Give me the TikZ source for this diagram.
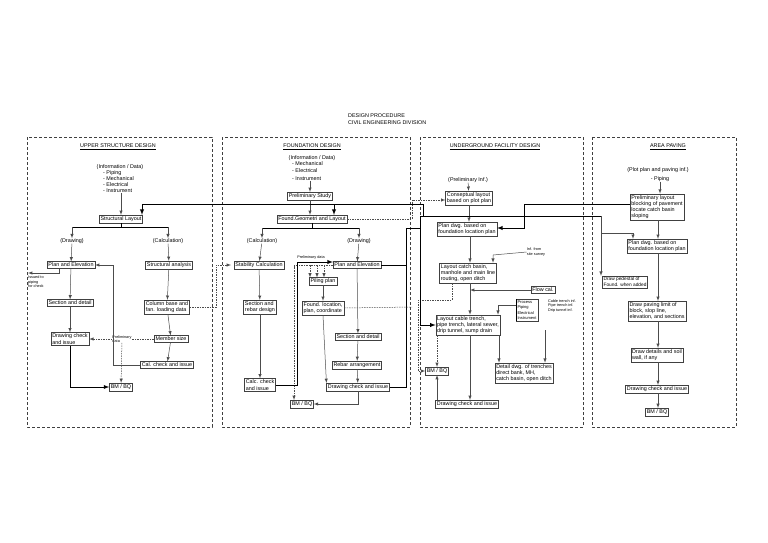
\documentclass[tikz,border=0pt]{standalone}
\usepackage{fontspec}
\setmainfont{Liberation Sans}
\begin{document}
\begin{tikzpicture}[x=1pt,y=-1pt,>=latex,
	box/.style={draw=black!75,line width=.5pt,fill=white,inner sep=1.3pt,align=left,font=\fontsize{5.4}{6.2}\selectfont},
	txt/.style={inner sep=0pt,align=left,font=\fontsize{5.4}{6.2}\selectfont},
	small/.style={inner sep=0pt,align=left,font=\fontsize{3.8}{4.4}\selectfont},
	head/.style={inner sep=0pt,font=\fontsize{5.4}{6.2}\selectfont},
	panel/.style={draw=black!75,line width=.7pt,dash pattern=on 3pt off 2pt},
	ln/.style={draw=black!70,line width=.5pt},
	thk/.style={draw=black,line width=.9pt},
	dsh/.style={draw=black!70,line width=.5pt,dash pattern=on 1.5pt off 1pt}]
	\useasboundingbox (0,0) rectangle (768,543);

	\node[txt,anchor=north west] (title) at (348,114) {DESIGN PROCEDURE\\CIVIL ENGINEERING DIVISION};

	\draw[panel] (27,137) rectangle (212,427);
	\draw[panel] (222,137) rectangle (410,427);
	\draw[panel] (420,137) rectangle (583,427);
	\draw[panel] (592,137) rectangle (736,427);

%	upper structure
	\node[head] (h1) at (118,147) {\underline{UPPER STRUCTURE DESIGN}};
	\node[txt] (i1) at (120,167) {(Information / Data)};
	\node[txt,anchor=north west] (i1b) at (103,170) {- Piping\\- Mechanical\\- Electrical\\- Instrument};
	\node[box] (sl) at (121,219) {Structural Layout};
	\node[txt] (dr1) at (72,241) {(Drawing)};
	\node[txt] (ca1) at (168,241) {(Calculation)};
	\node[box] (pe1) at (71,265) {Plan and Elevation};
	\node[box] (sa1) at (169,265) {Structural analysis};
	\node[small,anchor=north west] (iss) at (28,276) {Issued to\\piping\\for check};
	\node[box] (sd1) at (70,303) {Section and detail};
	\node[box] (cb1) at (167,307) {Column base and\\fan. loading data};
	\node[box] (dc1) at (70,339) {Drawing check\\and issue};
	\node[box] (ms1) at (171,339) {Member size};
	\node[small] (pd1) at (122,339) {Preliminary\\data};
	\node[box] (cc1) at (167,365) {Cal. check and issue};
	\node[box] (bm1) at (121,387) {BM / BQ};

	\draw[ln,->] (i1b.south west -| sl) -- (sl);
	\draw[thk] (sl) -- (121,227);
	\draw[thk] (72,227) -- (169,227);
	\draw[ln,->] (72,227) -- (dr1);
	\draw[ln,->] (168,227) -- (ca1);
	\draw[ln,->] (dr1) -- (pe1);
	\draw[ln,->] (ca1) -- (sa1);
	\draw[ln,->] (pe1.south -| 59,0) -- (59,273) -- (28,273);
	\draw[ln,->] (pe1) -- (sd1);
	\draw[ln,->] (sd1) -- (dc1);
	\draw[ln,->] (sa1) -- (cb1);
	\draw[ln,->] (cb1) -- (ms1);
	\draw[ln,->] (ms1) -- (cc1);
	\draw[dsh,->] (ms1) -- (pd1) -- (dc1);
	\draw[dsh,->] (pd1) -- (bm1);
	\draw[ln,->] (cc1.west) -- (113,365) -- (113,265) -- (pe1.east);
	\draw[thk,->] (dc1.south) -- (70,387) -- (bm1.west);
	\draw[dsh,->] (cb1.east) -- (216,307) -- (216,265) -- (231,265);

%	foundation
	\node[head] (h2) at (312,147) {\underline{FOUNDATION DESIGN}};
	\node[txt] (i2) at (312,158) {(Information / Data)};
	\node[txt,anchor=north west] (i2b) at (292,161) {- Mechanical\\[1.5pt]- Electrical\\[1.5pt]- Instrument};
	\node[box] (ps2) at (310,196) {Preliminary Study};
	\node[box] (fg2) at (312,219) {Found.Geometri and Layout};
	\node[txt] (ca2) at (262,241) {(Calculation)};
	\node[txt] (dr2) at (359,241) {(Drawing)};
	\node[box] (st2) at (259,265) {Stability Calculation};
	\node[box] (pe2) at (357,265) {Plan and Elevation};
	\node[small] (pd2) at (311,258) {Preliminary data};
	\node[box] (pp2) at (323,281) {Piling plan};
	\node[box] (fl2) at (323,308) {Found. location,\\plan, coordinate};
	\node[box] (sr2) at (260,307) {Section and\\rebar design};
	\node[box] (sd2) at (358,337) {Section and detail};
	\node[box] (ra2) at (357,365) {Rebar arrangement};
	\node[box] (cc2) at (260,385) {Calc. check\\and issue};
	\node[box] (dc2) at (358,387) {Drawing check and issue};
	\node[box] (bm2) at (302,404) {BM / BQ};

	\draw[ln,->] (i2b.south -| ps2) -- (ps2);
	\draw[ln,->] (ps2) -- (fg2.north -| ps2);
	\draw[thk] (fg2) -- (312,228);
	\draw[thk] (262,228) -- (359,228);
	\draw[ln,->] (262,228) -- (ca2);
	\draw[ln,->] (359,228) -- (dr2);
	\draw[ln,->] (ca2) -- (st2);
	\draw[ln,->] (dr2) -- (pe2);
	\draw[ln,->] (st2) -- (sr2);
	\draw[ln,->] (sr2) -- (cc2);
	\draw[ln,->] (pe2) -- (sd2);
	\draw[ln,->] (sd2) -- (ra2);
	\draw[ln,->] (ra2) -- (dc2);
	\draw[ln,->] (pp2) -- (fl2);
	\draw[ln,->] (fl2.south) -- (dc2.north west |- 0,383);
	\draw[ln,->] (dc2.south) -- (358,404) -- (bm2.east);
	\draw[dsh] (pe2.west) -- (294,265) -- (294,268);
	\draw[dsh,->] (294,265) -- (bm2.north -| 294,0);
	\foreach \x in {310,317,324} {\draw[dsh,->] (\x,265) -- (\x,277.5);}
	\draw[thk,->] (cc2.east) -- (297,385) -- (297,262) -- (pe2.west |- 0,262);
	\draw[thk] (dc2.east) -- (406,387) -- (406,228) -- (420,228);
	\draw[thk] (pe2.east) -- (406,265);
	\draw[dsh] (fl2.east) -- (412,307);

%	underground
	\node[head] (h3) at (495,147) {\underline{UNDERGROUND FACILITY DESIGN}};
	\node[txt] (i3) at (468,180) {(Preliminary Inf.)};
	\node[box] (cl3) at (469,198) {Conseptual layout\\based on plot plan};
	\node[box] (pd3) at (467,229) {Plan dwg. based on\\foundation location plan};
	\node[small] (sv3) at (536,252) {Inf. from\\site survey};
	\node[box] (lc3) at (468,273) {Layout catch basin,\\manhole and main line\\routing, open ditch};
	\node[box] (fc3) at (543,290) {Flow cal.};
	\node[box,font=\fontsize{4}{5.4}\selectfont] (pr3) at (527,310) {Process\\Piping\\Electrical\\Instrument};
	\node[small] (ct3) at (562,306) {Cable trench inf.\\Pipe trench inf.\\Drip tunnel inf.};
	\node[box] (lt3) at (468,325) {Layout cable trench,\\pipe trench, lateral sewer,\\drip tunnel, sump drain};
	\node[box] (dd3) at (524,373) {Detail dwg. of trenches\\direct bank, MH,\\catch basin, open ditch};
	\node[box] (bm3) at (437,371) {BM / BQ};
	\node[box] (dc3) at (467,404) {Drawing check and issue};

	\draw[ln,->] (i3) -- (cl3);
	\draw[ln,->] (cl3) -- (pd3.north -| cl3);
	\draw[ln,->] (pd3.south -| 470,0) -- (lc3.north -| 470,0);
	\draw[ln,->] (sv3.west) -- (493,255) -- (lc3.north -| 493,0);
	\draw[ln,->] (lc3.south -| 470,0) -- (lt3.north -| 470,0);
	\draw[ln,->] (fc3.west) -- (470,290);
	\draw[thk] (pr3.north west) -- (pr3.south west);
	\draw[ln,->] (pr3.west |- 0,305) -- (498,305) -- (lt3.north -| 498,0);
	\draw[ln,->] (lt3.south -| 499,0) -- (dd3.north -| 499,0);
	\draw[ln,->] (545,330) -- (dd3.north -| 545,0);
	\draw[ln,->] (lt3.south -| 470,0) -- (dc3.north -| 470,0);
	\draw[ln,->] (dc3.north -| bm3) -- (bm3);
	\draw[dsh,->] (lt3.south -| bm3) -- (bm3);
	\draw[dsh,->] (lc3.south -| 452,0) -- (452,300) -- (418,300) -- (418,371) -- (bm3.west);
	\draw[dsh,->] (fg2.east) -- (412,219) -- (412,200) -- (cl3.west |- 0,200);

%	area paving
	\node[head] (h4) at (668,147) {\underline{AREA PAVING}};
	\node[txt] (i4) at (658,170) {(Plot plan and paving inf.)};
	\node[txt] (i4b) at (660,179) {- Piping};
	\node[box] (pl4) at (657,207) {Preliminary layout\\blocking of pavement\\locate catch basin\\sloping};
	\node[box] (pd4) at (657,246) {Plan dwg. based on\\foundation location plan};
	\node[box,font=\fontsize{4.8}{5.8}\selectfont] (dp4) at (625,282) {Draw pedestal of\\Found. when added};
	\node[box] (dl4) at (657,311) {Draw paving limit of\\block, slop line,\\elevation, and sections};
	\node[box] (ds4) at (657,355) {Draw details and soil\\wall, if any};
	\node[box] (dc4) at (657,389) {Drawing check and issue};
	\node[box] (bm4) at (657,412) {BM / BQ};

	\draw[ln,->] (i4b) -- (pl4.north -| i4b);
	\draw[ln,->] (pl4.south -| 658,0) -- (pd4.north -| 658,0);
	\draw[ln,->] (pd4.south -| 658,0) -- (dl4.north -| 658,0);
	\draw[ln,->] (dl4.south -| 658,0) -- (ds4.north -| 658,0);
	\draw[ln,->] (ds4.south -| 658,0) -- (dc4.north -| 658,0);
	\draw[ln,->] (dc4.south -| 658,0) -- (bm4.north -| 658,0);

%	long connectors
	\draw[thk,->] (pl4.west |- 0,204) -- (524,204) -- (524,228) -- (pd3.east |- 0,228);
	\draw[thk,->] (423,216) -- (423,204) -- (142,204) -- (sl.north -| 142,0);
	\draw[thk,->] (334,204) -- (fg2.north -| 334,0);
	\draw[thk,->] (420,216) -- (420,325) -- (lt3.west |- 0,325);
	\draw[thk] (420,216) -- (601,216);
	\draw[ln,->] (601,216) -- (601,233) -- (633,233) -- (pd4.north -| 633,0);
	\draw[ln,->] (601,233) -- (dp4.north -| 601,0);
\end{tikzpicture}
\end{document}
